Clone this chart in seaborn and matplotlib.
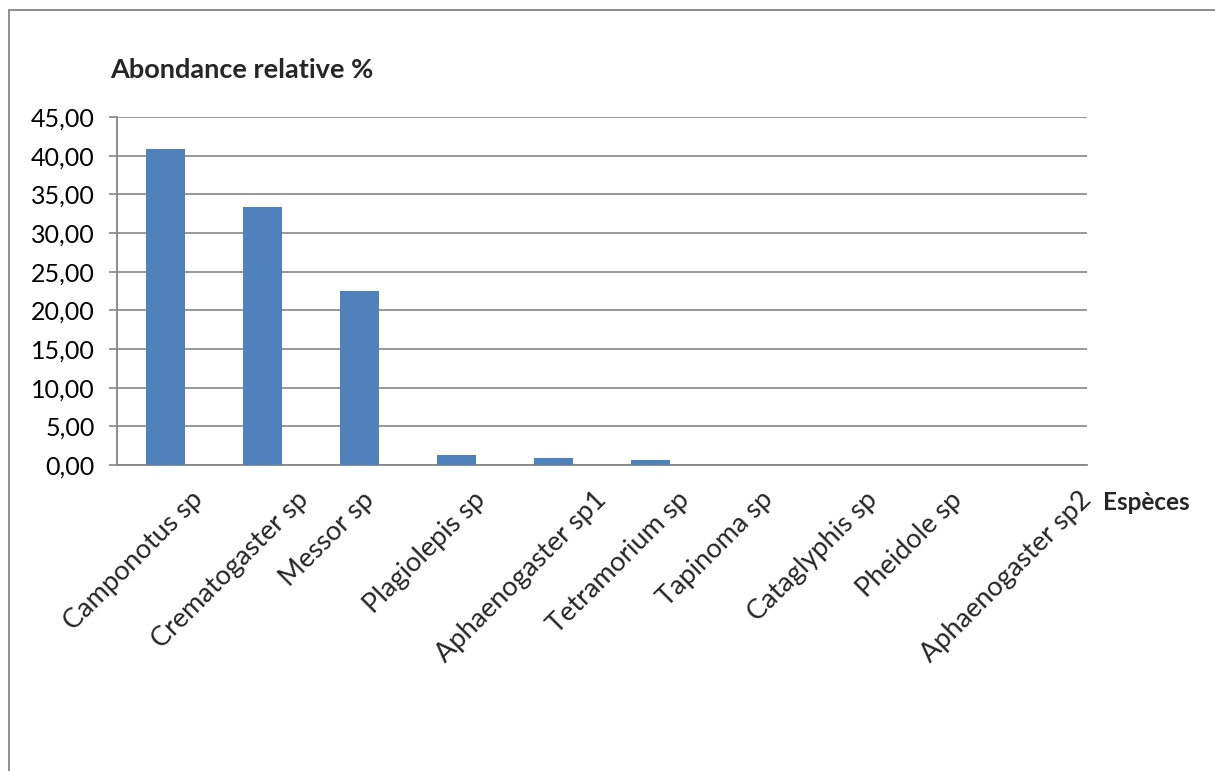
import matplotlib
matplotlib.use("Agg")
import matplotlib.pyplot as plt
from matplotlib.lines import Line2D
from matplotlib.ticker import FixedLocator, FuncFormatter
import matplotlib.transforms as mtransforms
import seaborn as sns
import pandas as pd

species = ["Camponotus sp", "Crematogaster sp", "Messor sp", "Plagiolepis sp",
           "Aphaenogaster sp1", "Tetramorium sp", "Tapinoma sp", "Cataglyphis sp",
           "Pheidole sp", "Aphaenogaster sp2"]
abondance = [40.8, 33.4, 22.5, 1.25, 0.87, 0.70, 0.0, 0.0, 0.0, 0.0]
y_ticks = [0, 5, 10, 15, 20, 25, 30, 35, 40, 45]

sns.set_theme(style="white")
plt.rcParams["font.family"] = ["Lato", "DejaVu Sans"]

df = pd.DataFrame({"espece": species, "abondance": abondance})

W, H = 1215, 771
fig = plt.figure(figsize=(W / 100, H / 100), dpi=100)
ax = fig.add_axes([117 / W, 1 - 465 / H, (1087 - 117) / W, (465 - 117) / H])

grey = "#868686"
sns.barplot(data=df, x="espece", y="abondance", color="#4F81BD", saturation=1,
            width=0.4, linewidth=0, ax=ax, zorder=3)

ax.set_ylim(0, 45)
ax.set_xlim(-0.5, len(species) - 0.5)
ax.yaxis.set_major_locator(FixedLocator(y_ticks))
ax.yaxis.set_major_formatter(FuncFormatter(lambda v, p: f"{v:.2f}".replace(".", ",")))
ax.grid(axis="y", color=grey, linewidth=1.2, zorder=0)
ax.set_axisbelow(True)
for side in ["top", "right"]:
    ax.spines[side].set_visible(False)
for side in ["left", "bottom"]:
    ax.spines[side].set_color(grey)
    ax.spines[side].set_linewidth(1.3)
ax.tick_params(axis="y", direction="out", length=6, width=1.2, color=grey,
               labelsize=18, pad=10, left=True, labelcolor="black")
ax.tick_params(axis="x", length=0, labelsize=19.5, pad=2)
ax.set_xlabel("")
ax.set_ylabel("")

# rotated species names: box centred a little left of each category, top aligned
offset = mtransforms.ScaledTranslation(-32 / 100, -19 / 100, fig.dpi_scale_trans)
for lab in ax.get_xticklabels():
    lab.set_rotation(45)
    lab.set_ha("center")
    lab.set_va("top")
    lab.set_rotation_mode("default")
    lab.set_transform(lab.get_transform() + offset)

fig.text(110 / W, 1 - 70 / H, "Abondance relative %", fontsize=19.5, fontweight="bold",
         ha="left", va="center")
fig.text(1103 / W, 1 - 503 / H, "Espèces", fontsize=17.5, fontweight="bold",
         ha="left", va="center")

# outer frame (top and left edges)
fig.add_artist(Line2D([9 / W, 1.0], [1 - 10 / H, 1 - 10 / H], color=grey, linewidth=1.3,
                      transform=fig.transFigure))
fig.add_artist(Line2D([9 / W, 9 / W], [0.0, 1 - 10 / H], color=grey, linewidth=1.3,
                      transform=fig.transFigure))

fig.savefig("out.png", dpi=100)
